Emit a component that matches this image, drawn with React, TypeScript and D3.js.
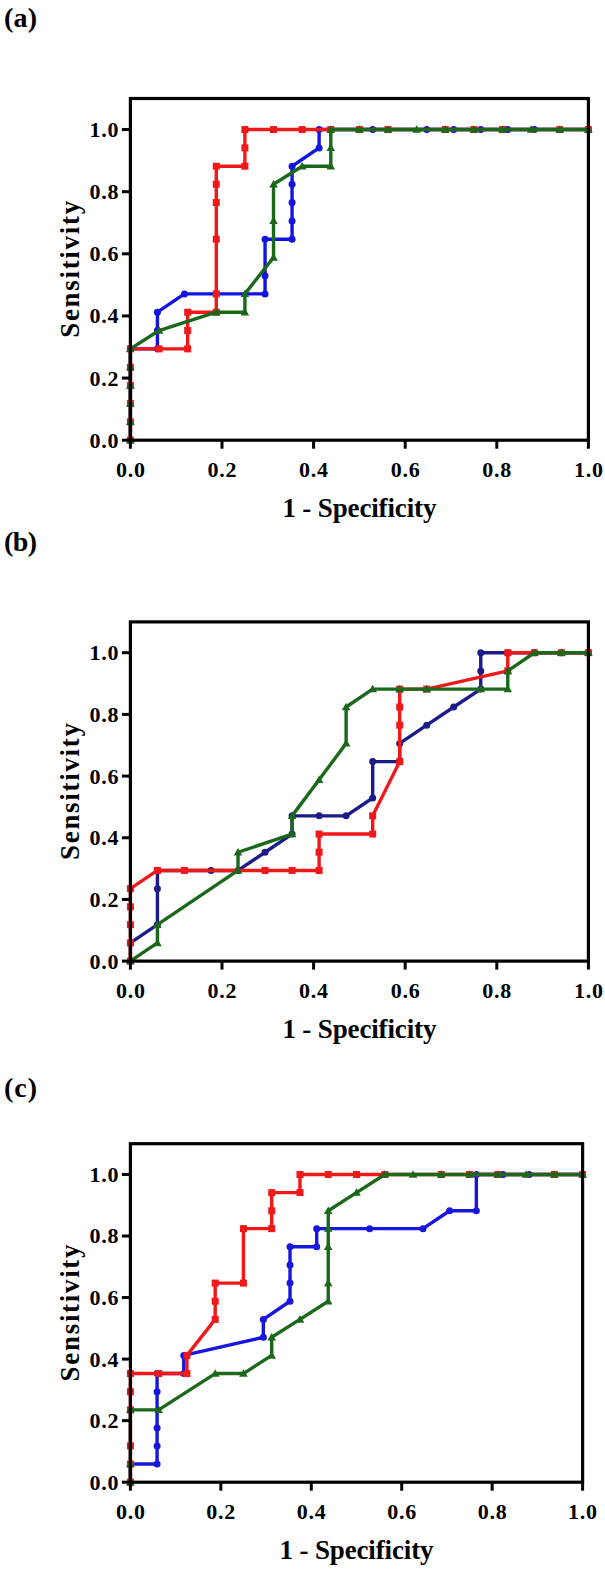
import React from "react";
import * as d3 from "d3";

// ---------- data (1 - Specificity, Sensitivity) ----------
// Panel (a)
const blueA_x = [0, 0, 0.059, 0.059, 0.059, 0.118, 0.294, 0.294, 0.294, 0.353, 0.353, 0.353, 0.353, 0.353, 0.412, 0.412, 0.529, 0.647, 0.706, 0.765, 0.824, 0.882, 1];
const blueA_y = [0, 0.294, 0.294, 0.353, 0.412, 0.471, 0.471, 0.529, 0.647, 0.647, 0.706, 0.765, 0.824, 0.882, 0.941, 1, 1, 1, 1, 1, 1, 1, 1];
const redA_x = [0, 0, 0, 0, 0, 0, 0.0625, 0.125, 0.125, 0.125, 0.1875, 0.1875, 0.1875, 0.1875, 0.1875, 0.1875, 0.25, 0.25, 0.25, 0.3125, 0.375, 0.4375, 0.5, 0.5625, 0.6875, 0.75, 0.8125, 0.9375, 1];
const redA_y = [0, 0.059, 0.118, 0.176, 0.235, 0.294, 0.294, 0.294, 0.353, 0.412, 0.412, 0.471, 0.647, 0.765, 0.824, 0.882, 0.882, 0.941, 1, 1, 1, 1, 1, 1, 1, 1, 1, 1, 1];
const greenA_x = [0, 0, 0, 0, 0, 0, 0.0625, 0.1875, 0.25, 0.25, 0.3125, 0.3125, 0.3125, 0.375, 0.4375, 0.4375, 0.4375, 0.5, 0.5625, 0.625, 0.6875, 0.75, 0.8125, 0.875, 0.9375, 1];
const greenA_y = [0, 0.059, 0.118, 0.176, 0.235, 0.294, 0.353, 0.412, 0.412, 0.471, 0.588, 0.706, 0.824, 0.882, 0.882, 0.941, 1, 1, 1, 1, 1, 1, 1, 1, 1, 1];

// Panel (b)
const blueB_x = [0, 0, 0.059, 0.059, 0.059, 0.176, 0.235, 0.294, 0.353, 0.353, 0.412, 0.471, 0.529, 0.529, 0.588, 0.588, 0.647, 0.706, 0.765, 0.765, 0.765, 0.824, 0.882, 0.941, 1];
const blueB_y = [0, 0.059, 0.118, 0.235, 0.294, 0.294, 0.294, 0.353, 0.412, 0.471, 0.471, 0.471, 0.529, 0.647, 0.647, 0.706, 0.765, 0.824, 0.882, 0.941, 1, 1, 1, 1, 1];
const redB_x = [0, 0, 0, 0, 0, 0.059, 0.118, 0.294, 0.353, 0.412, 0.412, 0.412, 0.529, 0.529, 0.588, 0.588, 0.588, 0.588, 0.647, 0.824, 0.824, 0.882, 0.941, 1];
const redB_y = [0, 0.059, 0.118, 0.176, 0.235, 0.294, 0.294, 0.294, 0.294, 0.294, 0.353, 0.412, 0.412, 0.471, 0.647, 0.765, 0.824, 0.882, 0.882, 0.941, 1, 1, 1, 1];
const greenB_x = [0, 0.059, 0.059, 0.235, 0.235, 0.353, 0.353, 0.412, 0.471, 0.471, 0.529, 0.588, 0.647, 0.765, 0.824, 0.824, 0.882, 0.941, 1];
const greenB_y = [0, 0.059, 0.118, 0.294, 0.353, 0.412, 0.471, 0.588, 0.706, 0.824, 0.882, 0.882, 0.882, 0.882, 0.882, 0.941, 1, 1, 1];

// Panel (c)
const blueC_x = [0, 0, 0.059, 0.059, 0.059, 0.059, 0.059, 0.118, 0.118, 0.294, 0.294, 0.353, 0.353, 0.353, 0.353, 0.412, 0.412, 0.529, 0.647, 0.706, 0.765, 0.765, 0.824, 0.882, 1];
const blueC_y = [0, 0.059, 0.059, 0.118, 0.176, 0.294, 0.353, 0.353, 0.412, 0.471, 0.529, 0.588, 0.647, 0.706, 0.765, 0.765, 0.824, 0.824, 0.824, 0.882, 0.882, 1, 1, 1, 1];
const redC_x = [0, 0, 0, 0, 0, 0, 0.0625, 0.125, 0.125, 0.1875, 0.1875, 0.1875, 0.25, 0.25, 0.3125, 0.3125, 0.3125, 0.375, 0.375, 0.4375, 0.5, 0.5625, 0.6875, 0.75, 0.8125, 0.9375, 1];
const redC_y = [0, 0.059, 0.118, 0.235, 0.294, 0.353, 0.353, 0.353, 0.412, 0.529, 0.588, 0.647, 0.647, 0.824, 0.824, 0.882, 0.941, 0.941, 1, 1, 1, 1, 1, 1, 1, 1, 1];
const greenC_x = [0, 0, 0, 0.0625, 0.1875, 0.25, 0.3125, 0.3125, 0.375, 0.4375, 0.4375, 0.4375, 0.4375, 0.4375, 0.5, 0.5625, 0.625, 0.6875, 0.75, 0.8125, 0.875, 0.9375, 1];
const greenC_y = [0, 0.059, 0.235, 0.235, 0.353, 0.353, 0.412, 0.471, 0.529, 0.588, 0.647, 0.765, 0.824, 0.882, 0.941, 1, 1, 1, 1, 1, 1, 1, 1];

const tickValues = [0, 0.2, 0.4, 0.6, 0.8, 1.0];
const panelLabels = ["(a)", "(b)", "(c)"];
const xTitle = "1 - Specificity";
const yTitle = "Sensitivity";

const RED = "#f01818";
const GREEN = "#1b681b";
const FONT = "'Liberation Serif', 'Times New Roman', serif";

type Series = { xs: number[]; ys: number[]; color: string; shape: "circle" | "square" | "triangle" };

const panels = [
  {
    label: panelLabels[0], labelY: 27, left: 130.4, right: 588.4, y0: 440.2, yTop: 98.5,
    series: [
      { xs: blueA_x, ys: blueA_y, color: "#1414e0", shape: "circle" },
      { xs: redA_x, ys: redA_y, color: RED, shape: "square" },
      { xs: greenA_x, ys: greenA_y, color: GREEN, shape: "triangle" },
    ] as Series[],
  },
  {
    label: panelLabels[1], labelY: 551, left: 130.4, right: 588.4, y0: 961.1, yTop: 621.9,
    series: [
      { xs: blueB_x, ys: blueB_y, color: "#1c1c88", shape: "circle" },
      { xs: redB_x, ys: redB_y, color: RED, shape: "square" },
      { xs: greenB_x, ys: greenB_y, color: GREEN, shape: "triangle" },
    ] as Series[],
  },
  {
    label: panelLabels[2], labelY: 1097, left: 130.4, right: 582.6, y0: 1482.2, yTop: 1143.7,
    series: [
      { xs: blueC_x, ys: blueC_y, color: "#1616dc", shape: "circle" },
      { xs: redC_x, ys: redC_y, color: RED, shape: "square" },
      { xs: greenC_x, ys: greenC_y, color: GREEN, shape: "triangle" },
    ] as Series[],
  },
];

function Marker({ cx, cy, shape, color }: { cx: number; cy: number; shape: string; color: string }) {
  if (shape === "circle") return <circle cx={cx} cy={cy} r={3.5} fill={color} />;
  if (shape === "square") return <rect x={cx - 3.5} y={cy - 3.5} width={7} height={7} fill={color} />;
  const s = 4.3;
  return <path d={`M${cx},${cy - s} L${cx + s},${cy + s * 0.75} L${cx - s},${cy + s * 0.75} Z`} fill={color} />;
}

function Panel({ p }: { p: (typeof panels)[number] }) {
  const x = d3.scaleLinear().domain([0, 1]).range([p.left, p.right]);
  const y = d3.scaleLinear().domain([0, 1.1]).range([p.y0, p.yTop]);
  const fmt = d3.format(".1f");
  const line = d3.line<[number, number]>().x((d) => x(d[0])).y((d) => y(d[1]));
  const midX = (p.left + p.right) / 2;
  const midY = (p.y0 + p.yTop) / 2;
  return (
    <g>
      <text x={4} y={p.labelY} fontFamily={FONT} fontWeight="bold" fontSize={28} fill="#000" textLength={33} lengthAdjust="spacing">{p.label}</text>
      {p.series.map((s, i) => {
        const pts = s.xs.map((v, k) => [v, s.ys[k]] as [number, number]);
        return (
          <g key={i}>
            <path d={line(pts) || ""} fill="none" stroke={s.color} strokeWidth={3.4} strokeLinejoin="round" />
            {pts.map((pt, k) => (
              <Marker key={k} cx={x(pt[0])} cy={y(pt[1])} shape={s.shape} color={s.color} />
            ))}
          </g>
        );
      })}
      <rect x={p.left} y={p.yTop} width={p.right - p.left} height={p.y0 - p.yTop} fill="none" stroke="#000" strokeWidth={3.2} />
      {tickValues.map((t) => (
        <g key={"x" + t}>
          <line x1={x(t)} x2={x(t)} y1={p.y0} y2={p.y0 + 8.5} stroke="#000" strokeWidth={3} />
          <text x={x(t)} y={p.y0 + 37} textAnchor="middle" fontFamily={FONT} fontWeight="bold" fontSize={22} textLength={29} lengthAdjust="spacing">{fmt(t)}</text>
        </g>
      ))}
      {tickValues.map((t) => (
        <g key={"y" + t}>
          <line x1={p.left - 8.5} x2={p.left} y1={y(t)} y2={y(t)} stroke="#000" strokeWidth={3} />
          <text x={p.left - 12} y={y(t)} dy="0.34em" textAnchor="end" fontFamily={FONT} fontWeight="bold" fontSize={22} textLength={29} lengthAdjust="spacing">{fmt(t)}</text>
        </g>
      ))}
      <text x={midX} y={p.y0 + 77} textAnchor="middle" fontFamily={FONT} fontWeight="bold" fontSize={27} textLength={154} lengthAdjust="spacing">{xTitle}</text>
      <text transform={`translate(79,${midY}) rotate(-90)`} textAnchor="middle" fontFamily={FONT} fontWeight="bold" fontSize={27} textLength={137} lengthAdjust="spacing">{yTitle}</text>
    </g>
  );
}

export default function App() {
  return (
    <svg width={605} height={1570} style={{ position: "absolute", left: 0, top: 0, background: "#fff" }}>
      <rect x={0} y={0} width={605} height={1570} fill="#fff" />
      {panels.map((p, i) => (
        <Panel key={i} p={p} />
      ))}
    </svg>
  );
}
